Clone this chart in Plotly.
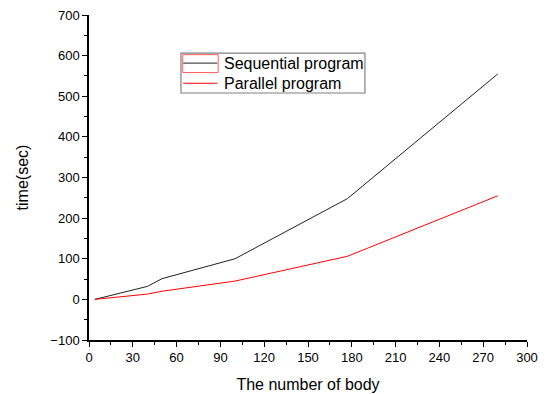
import plotly.graph_objects as go

# Number of bodies simulated and measured run times (seconds)
bodies = [4, 40, 50, 100, 177, 280]
sequential_time = [0, 32, 51, 100, 248, 555]
parallel_time = [0, 13, 20, 45, 106, 255]

series_names = ["Sequential program", "Parallel program"]
series_colors = ["#222222", "#ff0000"]

x_ticks = list(range(0, 301, 30))
y_ticks = list(range(-100, 701, 100))

FONT = "Liberation Sans, Arial, sans-serif"

fig = go.Figure()
for name, values, color in zip(series_names, [sequential_time, parallel_time], series_colors):
    fig.add_trace(go.Scatter(
        x=bodies, y=values, mode="lines", name=name,
        line=dict(color=color, width=1), showlegend=False,
    ))

axis_common = dict(
    showgrid=False, zeroline=False, showline=True, linecolor="black", linewidth=1.5,
    ticks="outside", ticklen=5, tickwidth=1, tickcolor="black", automargin=False,
    tickfont=dict(family=FONT, size=13, color="black"),
    title_font=dict(family=FONT, size=16, color="black"),
)

fig.update_xaxes(
    range=[0, 300], tickvals=x_ticks, title_text="The number of body", title_standoff=14,
    minor=dict(dtick=15, ticks="outside", ticklen=3, tickcolor="black"),
    **axis_common,
)
fig.update_yaxes(
    range=[-100, 700], tickvals=y_ticks, title_text="time(sec)", title_standoff=18,
    minor=dict(dtick=50, ticks="outside", ticklen=3, tickcolor="black"),
    **axis_common,
)

# Hand-drawn legend box (paper coordinates)
lx0, lx1 = 0.210, 0.630
ly0, ly1 = 0.760, 0.883
shapes = [dict(type="rect", xref="paper", yref="paper", x0=lx0, x1=lx1, y0=ly0, y1=ly1,
               line=dict(color="#808080", width=1.2), fillcolor="white", layer="above")]
annotations = []
row_y = [0.852, 0.790]
for name, color, ry in zip(series_names, series_colors, row_y):
    shapes.append(dict(type="line", xref="paper", yref="paper", x0=0.215, x1=0.293,
                       y0=ry, y1=ry, line=dict(color=color, width=1), layer="above"))
    annotations.append(dict(xref="paper", yref="paper", x=0.303, y=ry, text=name,
                            showarrow=False, xanchor="left", yanchor="middle",
                            font=dict(family=FONT, size=16, color="black")))
# selection frame around the first legend symbol
shapes.append(dict(type="rect", xref="paper", yref="paper", x0=0.214, x1=0.295,
                   y0=0.823, y1=0.878, line=dict(color="#ff6060", width=1), layer="above"))

fig.update_layout(
    width=551, height=394,
    margin=dict(l=89, r=24, t=15, b=54),
    plot_bgcolor="white", paper_bgcolor="white",
    font=dict(family=FONT, color="black"),
    shapes=shapes, annotations=annotations,
    showlegend=False,
)

fig.write_html("out.html")
